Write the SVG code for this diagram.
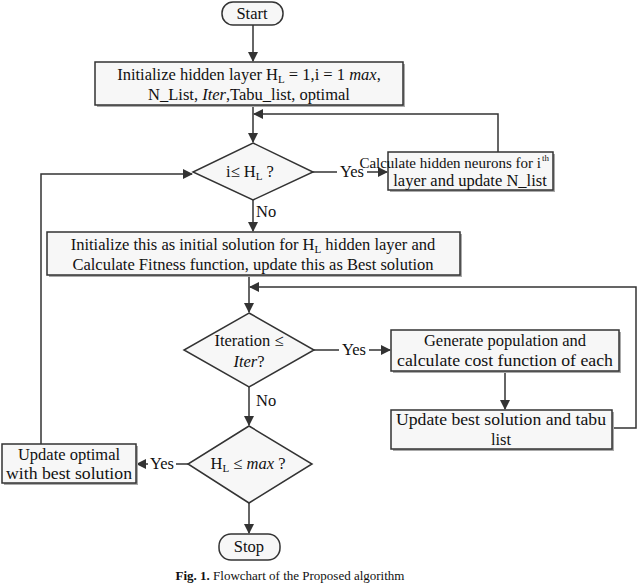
<svg xmlns="http://www.w3.org/2000/svg" width="640" height="584" viewBox="0 0 640 584">
<style>
.b{fill:#f7f7f7;stroke:#333;stroke-width:1.5}
.s{fill:#aaa}
.l{fill:none;stroke:#333;stroke-width:1.5}
.w{fill:#fff}
text{font-family:"Liberation Serif",serif;font-size:16.5px;fill:#111;text-anchor:middle}
.sm{font-size:11px}
</style>
<defs><marker id="a" markerWidth="10" markerHeight="10" refX="9" refY="5" orient="auto" markerUnits="userSpaceOnUse"><path d="M0,0 L10,5 L0,10z" fill="#333"/></marker></defs>
<rect width="640" height="584" fill="#fff"/>
<g id="connectors">
<path class="l" d="M253,24V61" marker-end="url(#a)"/>
<path class="l" d="M253,105V142" marker-end="url(#a)"/>
<path class="l" d="M498,152V114H254" marker-end="url(#a)"/>
<path class="l" d="M313,172H387" marker-end="url(#a)"/>
<path class="l" d="M253,200V231" marker-end="url(#a)"/>
<path class="l" d="M41,444V174H192" marker-end="url(#a)"/>
<path class="l" d="M249,275V312" marker-end="url(#a)"/>
<path class="l" d="M314,350H390" marker-end="url(#a)"/>
<path class="l" d="M505,371V409" marker-end="url(#a)"/>
<path class="l" d="M612,428H636V287H250" marker-end="url(#a)"/>
<path class="l" d="M249,387V425" marker-end="url(#a)"/>
<path class="l" d="M188,464H137" marker-end="url(#a)"/>
<path class="l" d="M249,503V533" marker-end="url(#a)"/>
</g>
<g id="start"><rect class="b" x="222" y="2" width="61" height="23" rx="11"/><text x="252" y="19">Start</text></g>
<g id="init"><rect class="s" x="97" y="64" width="308" height="43"/><rect class="b" x="95" y="62" width="308" height="43"/>
<text x="249" y="80">Initialize hidden layer H<tspan class="sm" dy="3">L</tspan><tspan dy="-3"> = 1,i = 1 </tspan><tspan font-style="italic">max</tspan>,</text>
<text x="249" y="100">N_List, <tspan font-style="italic">Iter</tspan>,Tabu_list, optimal</text></g>
<g id="d1"><path class="b" d="M253,143L313,172L253,200L193,172z"/><text x="250" y="177">i≤ H<tspan class="sm" dy="3">L</tspan><tspan dy="-3"> ?</tspan></text></g>
<rect class="w" x="337" y="163" width="30" height="16"/><text x="352" y="177">Yes</text>
<g id="calc"><rect class="s" x="390" y="154" width="165" height="38"/><rect class="b" x="388" y="152" width="165" height="38"/>
<text x="541" y="168" style="text-anchor:end;font-size:15px">Calculate hidden neurons for i</text><text x="542" y="161" style="text-anchor:start;font-size:9px">th</text><text x="470" y="186">layer and update N_list</text></g>
<text x="256" y="217" style="text-anchor:start">No</text>
<g id="init2"><rect class="s" x="49" y="234" width="413" height="43"/><rect class="b" x="47" y="232" width="413" height="43"/>
<text x="253" y="250">Initialize this as initial solution for H<tspan class="sm" dy="3">L</tspan><tspan dy="-3"> hidden layer and</tspan></text>
<text x="253" y="270">Calculate Fitness function, update this as Best solution</text></g>
<g id="d2"><path class="b" d="M249,313L314,350L249,387L184,350z"/><text x="249" y="346">Iteration ≤</text><text x="249" y="367"><tspan font-style="italic">Iter</tspan>?</text></g>
<rect class="w" x="339" y="341" width="30" height="16"/><text x="354" y="355">Yes</text>
<g id="gen"><rect class="s" x="393" y="332" width="228" height="41"/><rect class="b" x="391" y="330" width="228" height="41"/>
<text x="505" y="346">Generate population and</text><text x="505" y="366" textLength="216" lengthAdjust="spacingAndGlyphs">calculate cost function of each</text></g>
<g id="upd"><rect class="s" x="393" y="412" width="221" height="39"/><rect class="b" x="391" y="410" width="221" height="39"/>
<text x="501" y="425" textLength="210" lengthAdjust="spacingAndGlyphs">Update best solution and tabu</text><text x="501" y="445">list</text></g>
<text x="256" y="406" style="text-anchor:start">No</text>
<g id="d3"><path class="b" d="M249,426L312,464L249,503L188,464z"/><text x="248" y="469">H<tspan class="sm" dy="3">L</tspan><tspan dy="-3"> ≤ </tspan><tspan font-style="italic">max</tspan> ?</text></g>
<rect class="w" x="148" y="455" width="28" height="16"/><text x="162" y="469">Yes</text>
<g id="opt"><rect class="s" x="4" y="446" width="134" height="39"/><rect class="b" x="2" y="444" width="134" height="39"/>
<text x="69" y="460">Update optimal</text><text x="69" y="479" textLength="126" lengthAdjust="spacingAndGlyphs">with best solution</text></g>
<g id="stop"><rect class="b" x="219" y="534" width="61" height="26" rx="12"/><text x="249" y="552">Stop</text></g>
<text x="290" y="580" style="font-size:13px"><tspan font-weight="bold">Fig. 1.</tspan> Flowchart of the Proposed algorithm</text>
</svg>
